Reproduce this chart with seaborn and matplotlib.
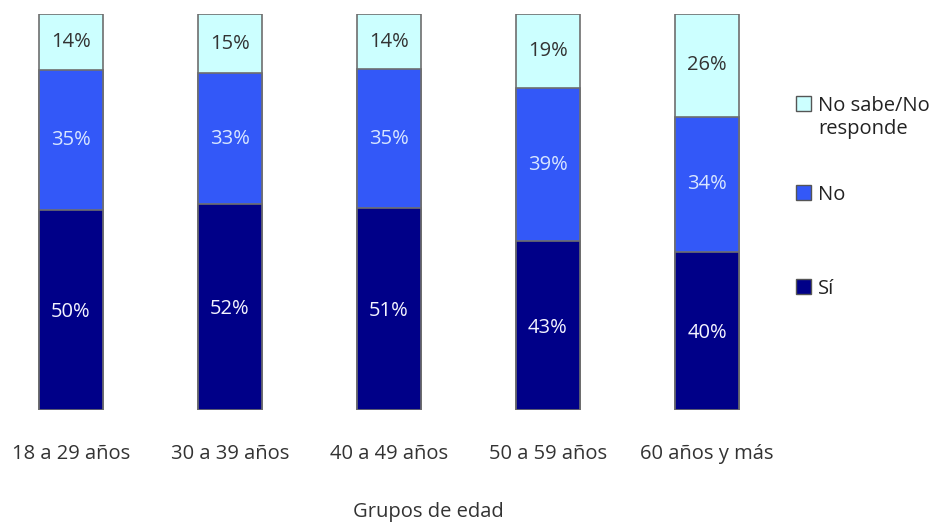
import pandas as pd
import matplotlib.pyplot as plt
import seaborn as sns
from matplotlib.patches import Rectangle

# datos
grupos = ['18 a 29 años', '30 a 39 años', '40 a 49 años', '50 a 59 años', '60 años y más']
si = [50, 52, 51, 43, 40]
no = [35, 33, 35, 39, 34]
nsnr = [14, 15, 14, 19, 26]
colores = {'Sí': '#000088', 'No': '#3358f8', 'No sabe/No\nresponde': '#ccffff'}

sns.set_style("white")
plt.rcParams['font.family'] = ['Open Sans', 'DejaVu Sans']
fs = 14.5

df = pd.DataFrame({'grupo': grupos, 'Sí': si, 'No': no, 'NS': nsnr})
total = df['Sí'] + df['No'] + df['NS']
# cada barra llega a 100%
df['top_si'] = df['Sí'] / total * 100
df['top_no'] = (df['Sí'] + df['No']) / total * 100
df['top_ns'] = 100.0

fig = plt.figure(figsize=(9.38, 5.26), dpi=100)
ax = fig.add_axes([0, 116 / 526, 800 / 938, 396 / 526])

for col, cat in [('top_ns', 'No sabe/No\nresponde'), ('top_no', 'No'), ('top_si', 'Sí')]:
    sns.barplot(data=df, x='grupo', y=col, color=colores[cat], saturation=1,
                width=0.4, edgecolor='#6e6e6e', linewidth=1.2, ax=ax)

ax.set_xlim(-71 / 159, (800 - 71) / 159)
ax.set_ylim(0, 100)
ax.set_yticks([])
ax.set_ylabel('')
ax.set_xlabel('')
for s in ax.spines.values():
    s.set_visible(False)
ax.tick_params(axis='x', length=0, pad=24.5, labelsize=fs, labelcolor='#333333')

# etiquetas de porcentaje
for i in range(len(grupos)):
    ax.text(i, df['top_si'][i] / 2 - 0.5, f"{si[i]}%", ha='center', va='center',
            color='#f4f4ff', fontsize=fs)
    ax.text(i, (df['top_si'][i] + df['top_no'][i]) / 2, f"{no[i]}%", ha='center',
            va='center', color='#d8e6ff', fontsize=fs)
    ax.text(i, (df['top_no'][i] + 100) / 2, f"{nsnr[i]}%", ha='center',
            va='center', color='#333333', fontsize=fs)

fig.text(428 / 938, 1 - 512 / 526, 'Grupos de edad', ha='center', va='center',
         fontsize=fs, color='#333333')

# leyenda
ley_y = {'No sabe/No\nresponde': 104, 'No': 193, 'Sí': 287}
for cat, yy in ley_y.items():
    fig.patches.append(Rectangle((796 / 938, 1 - (yy + 7) / 526), 15 / 938, 15 / 526,
                                 transform=fig.transFigure, facecolor=colores[cat],
                                 edgecolor='#555555', linewidth=1))
    fig.text(818 / 938, 1 - (yy - 8) / 526, cat, ha='left', va='top',
             fontsize=fs, color='#222222', linespacing=1.2)

fig.savefig('out.png', dpi=100)
